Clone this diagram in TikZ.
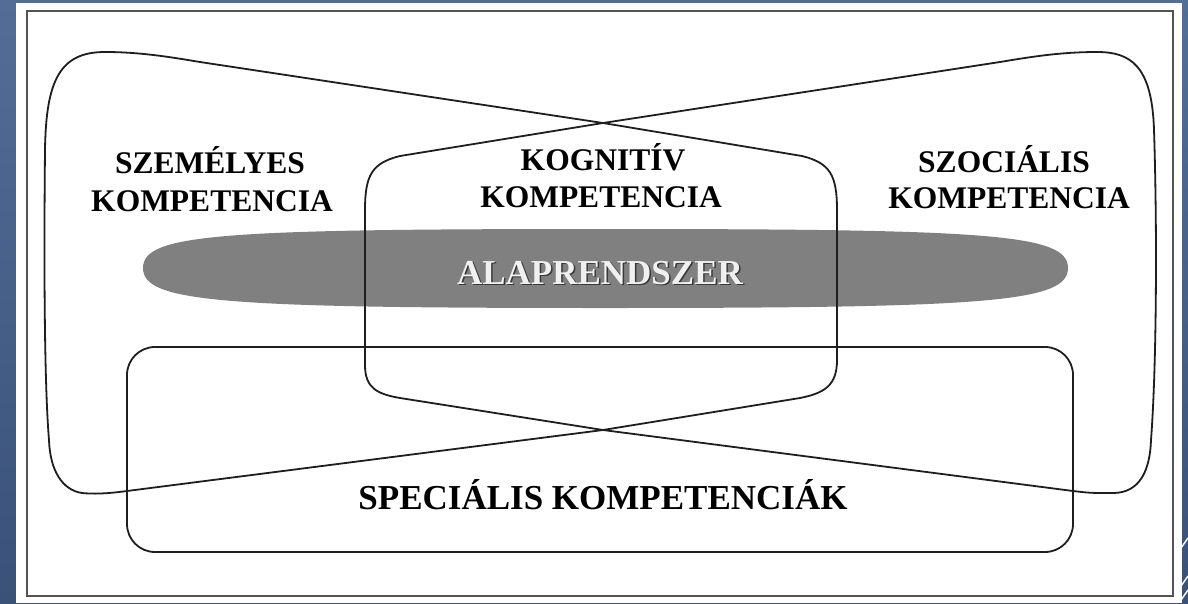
\documentclass[tikz,border=0pt]{standalone}
\usepackage{fontspec}
\setmainfont{Liberation Serif}
\definecolor{bgtop}{HTML}{526E97}
\definecolor{bgbot}{HTML}{3A5178}
\definecolor{ink}{HTML}{1E1E1E}
\begin{document}
\begin{tikzpicture}[x=1pt,y=-1pt,
  shapeline/.style={draw=ink, line width=1.8pt, line join=round},
  lbl/.style={font=\fontsize{31.5}{36}\selectfont\bfseries, inner sep=0pt, anchor=base, text=black},
  biglbl/.style={font=\fontsize{35}{40}\selectfont\bfseries, inner sep=0pt, anchor=base}]
\useasboundingbox (0,0) rectangle (1188,603);
% slide background
\shade[top color=bgtop, bottom color=bgbot] (0,0) rectangle (1188,603);
\fill[white] (16,3) rectangle (1182,603);
\draw[line width=2.2pt, draw=gray!65!black] (27,11) rectangle (1173,596);
\draw[white, line width=1.4pt] (1181,548) -- (1188,538);
\draw[white, line width=1.4pt] (1181,586) -- (1188,576);
\draw[white, line width=1.4pt] (1181,600) -- (1188,590);
% base system (gray ellipse)
\fill[gray] (143,268) .. controls (143,234) and (220,229) .. (605,229)
  .. controls (990,229) and (1068,234) .. (1068,268)
  .. controls (1068,302) and (990,308) .. (605,308)
  .. controls (220,308) and (143,302) .. (143,268) -- cycle;
% personal competence (left lobe)
\draw[shapeline] (45,150) .. controls (46,80) and (60,52) .. (105,52)
  .. controls (140,52) and (170,57) .. (200,62)
  -- (603,123) -- (802,156)
  .. controls (830,163) and (837,175) .. (837,210)
  -- (837,360)
  .. controls (837,385) and (825,393) .. (800,398)
  -- (603,430) -- (127,491)
  .. controls (105,494) and (92,494) .. (82,493)
  .. controls (62,490) and (50,470) .. (49,440)
  .. controls (44,380) and (44,250) .. (45,150) -- cycle;
% social competence (right lobe)
\draw[shapeline] (1154,130) .. controls (1152,65) and (1130,52) .. (1097,52)
  .. controls (1060,52) and (1030,57) .. (1000,62)
  -- (603,123) -- (400,156)
  .. controls (372,163) and (365,175) .. (365,210)
  -- (365,365)
  .. controls (365,388) and (377,394) .. (400,398)
  -- (603,430) -- (1073,491)
  .. controls (1090,493) .. (1113,493)
  .. controls (1140,493) and (1150,470) .. (1151,440)
  .. controls (1157,360) and (1157,220) .. (1154,130) -- cycle;
% special competences box
\draw[shapeline, rounded corners=28pt] (127,347) rectangle (1073,552);
% labels
\node[lbl] (szem1) at (210,173) {SZEMÉLYES};
\node[lbl] (szem2) at (212,211) {KOMPETENCIA};
\node[lbl] (kog1) at (603,170) {KOGNITÍV};
\node[lbl] (kog2) at (601,207) {KOMPETENCIA};
\node[lbl] (szoc1) at (1004,172) {SZOCIÁLIS};
\node[lbl] (szoc2) at (1009,208) {KOMPETENCIA};
\node[biglbl, text=gray!45!black] (alapshadow) at (601.5,285.5) {ALAPRENDSZER};
\node[biglbl, text=white!94!black] (alap) at (600,284) {ALAPRENDSZER};
\node[biglbl, text=black] (spec) at (603,509) {SPECIÁLIS KOMPETENCIÁK};
\end{tikzpicture}
\end{document}
